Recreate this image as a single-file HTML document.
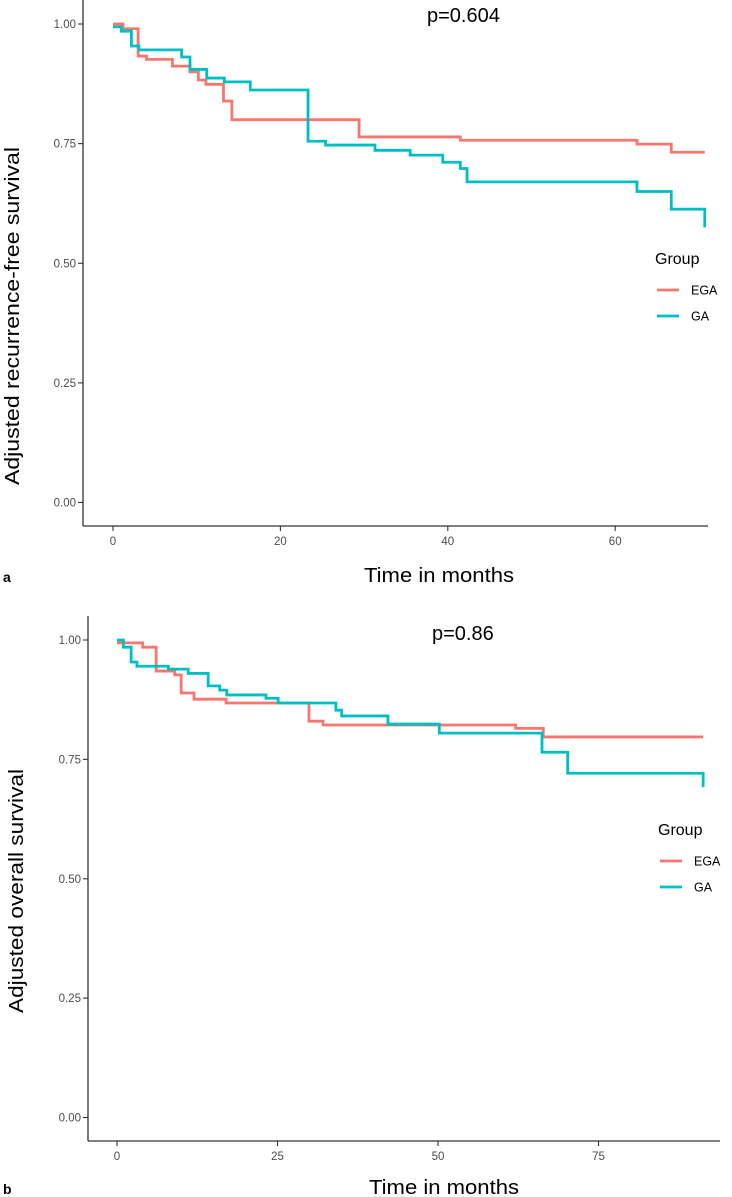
<!DOCTYPE html>
<html><head><meta charset="utf-8"><style>
html,body{margin:0;padding:0;background:#fff;}
svg{display:block;font-family:"Liberation Sans",sans-serif;}
</style></head><body>
<svg id="svg" width="732" height="1197" viewBox="0 0 732 1197" xmlns="http://www.w3.org/2000/svg"></svg>
<script>
// ---- Panel a data ----
const aTicksX = [0, 20, 40, 60];
const aTicksY = [0, 0.25, 0.5, 0.75, 1];
const aTickLabelsY = ["0.00", "0.25", "0.50", "0.75", "1.00"];
const aEgaT = [0, 1.2, 3, 4, 7.1, 9.2, 10.2, 11.1, 13.2, 14.2, 29.4, 41.5, 62.6, 66.7, 70.7];
const aEgaS = [1.0, 0.99, 0.933, 0.926, 0.912, 0.90, 0.883, 0.874, 0.839, 0.80, 0.764, 0.757, 0.749, 0.732, 0.732];
const aGaT = [0, 1, 2.2, 3.1, 8.2, 9.2, 11.2, 13.3, 16.4, 23.3, 25.4, 31.3, 35.5, 39.4, 41.5, 42.3, 62.6, 66.7, 70.7, 70.7];
const aGaS = [0.994, 0.985, 0.954, 0.946, 0.931, 0.905, 0.887, 0.879, 0.862, 0.755, 0.747, 0.736, 0.726, 0.711, 0.698, 0.67, 0.65, 0.613, 0.613, 0.575];
// ---- Panel b data ----
const bTicksX = [0, 25, 50, 75];
const bTicksY = [0, 0.25, 0.5, 0.75, 1];
const bTickLabelsY = ["0.00", "0.25", "0.50", "0.75", "1.00"];
const bEgaT = [0, 4.0, 6.1, 9.0, 10, 12, 17, 29.9, 32.1, 62.1, 66.4, 91.3];
const bEgaS = [0.994, 0.985, 0.935, 0.927, 0.889, 0.876, 0.868, 0.830, 0.822, 0.815, 0.797, 0.797];
const bGaT = [0, 1, 2.2, 3.1, 8, 11.1, 14.2, 16, 17.1, 23.2, 25.1, 34.1, 35, 42.2, 50.2, 66.2, 70.2, 91.3, 91.3];
const bGaS = [1.0, 0.985, 0.954, 0.945, 0.939, 0.930, 0.904, 0.895, 0.885, 0.878, 0.868, 0.853, 0.841, 0.824, 0.805, 0.765, 0.721, 0.721, 0.692];

const NS = "http://www.w3.org/2000/svg";
const svg = document.getElementById("svg");
function mk(tag, attrs, parent){const e=document.createElementNS(NS,tag);for(const k in attrs)e.setAttribute(k,attrs[k]);(parent||svg).appendChild(e);return e;}

function panel(cfg){
  const g = mk("g",{});
  
  
  const sx = t => cfg.x0 + t*cfg.pxT;
  const sy = v => cfg.y0 - v*cfg.pxV;
  // axes
  const ya = mk("line",{x1:cfg.ax,y1:cfg.axTop,x2:cfg.ax,y2:cfg.axY,stroke:"#333","stroke-width":1.3},g);
  
  
  const xa = mk("line",{x1:cfg.ax,y1:cfg.axY,x2:cfg.axRight,y2:cfg.axY,stroke:"#333","stroke-width":1.3},g);
  
  
  cfg.ticksY.forEach((v,i)=>{
    const tk = mk("line",{x1:cfg.ax-5,y1:sy(v),x2:cfg.ax,y2:sy(v),stroke:"#333","stroke-width":1.1},g);
    
    
    const t = mk("text",{x:cfg.ax-7,y:sy(v)+4,"text-anchor":"end","font-size":11.5,fill:"#4d4d4d"},g);
    t.textContent = cfg.labelsY[i];
    
    
  });
  cfg.ticksX.forEach(v=>{
    const tk = mk("line",{x1:sx(v),y1:cfg.axY,x2:sx(v),y2:cfg.axY+5,stroke:"#333","stroke-width":1.1},g);
    
    
    const t = mk("text",{x:sx(v),y:cfg.axY+19,"text-anchor":"middle","font-size":11.5,fill:"#4d4d4d"},g);
    t.textContent = String(v);
    
    
  });
  // curves
  function step(T,S,color,name){
    let d = "M"+sx(T[0])+","+sy(S[0]);
    for(let i=1;i<T.length;i++){ d += " H"+sx(T[i])+" V"+sy(S[i]); }
    const p = mk("path",{d:d,fill:"none",stroke:color,"stroke-width":2.8},g);
    
    
  }
  step(cfg.egaT,cfg.egaS,"#f8766d","ega-curve");
  step(cfg.gaT,cfg.gaS,"#00bfc4","ga-curve");
  // p value
  const pv = mk("text",{x:cfg.pX,y:cfg.pY,"font-size":20,fill:"#000"},g);
  pv.textContent = cfg.pText;
  
  
  // titles
  const yt = mk("text",{x:0,y:0,"text-anchor":"middle","font-size":20,fill:"#000",transform:"translate("+cfg.ytX+","+cfg.ytY+") rotate(-90)",textLength:cfg.ytLen,lengthAdjust:"spacingAndGlyphs"},g);
  yt.textContent = cfg.yTitle;
  
  
  const xt = mk("text",{x:cfg.xtX,y:cfg.xtY,"text-anchor":"middle","font-size":20,fill:"#000",textLength:150,lengthAdjust:"spacingAndGlyphs"},g);
  xt.textContent = "Time in months";
  
  
  const pl = mk("text",{x:3,y:cfg.xtY,"font-size":14,"font-weight":"bold",fill:"#000"},g);
  pl.textContent = cfg.letter;
  
  
  // legend
  const lg = mk("g",{},g);
  
  
  const lt = mk("text",{x:cfg.lgX,y:cfg.lgY,"font-size":16,fill:"#000"},lg);
  lt.textContent = "Group";
  
  
  [["EGA","#f8766d",cfg.lgY+26],["GA","#00bfc4",cfg.lgY+52]].forEach(e=>{
    const l = mk("line",{x1:cfg.lgX+2,y1:e[2],x2:cfg.lgX+24,y2:e[2],stroke:e[1],"stroke-width":2.8},lg);
    
    
    const t = mk("text",{x:cfg.lgX+36,y:e[2]+4.5,"font-size":12.5,fill:"#000"},lg);
    t.textContent = e[0];
    
    
  });
}

panel({name:"panel-a-recurrence-free", x0:113, pxT:8.37, y0:502.5, pxV:478.5,
  ax:83, axTop:0, axY:526, axRight:708,
  ticksX:aTicksX, ticksY:aTicksY, labelsY:aTickLabelsY,
  egaT:aEgaT, egaS:aEgaS, gaT:aGaT, gaS:aGaS,
  pX:427, pY:22, pText:"p=0.604",
  ytX:19, ytY:316, ytLen:338, yTitle:"Adjusted recurrence-free survival",
  xtX:439, xtY:582, letter:"a", lgX:655, lgY:264});

panel({name:"panel-b-overall", x0:117, pxT:6.42, y0:1117.5, pxV:477.5,
  ax:88, axTop:616, axY:1141, axRight:720,
  ticksX:bTicksX, ticksY:bTicksY, labelsY:bTickLabelsY,
  egaT:bEgaT, egaS:bEgaS, gaT:bGaT, gaS:bGaS,
  pX:432, pY:640, pText:"p=0.86",
  ytX:23, ytY:891, ytLen:244, yTitle:"Adjusted overall survival",
  xtX:444, xtY:1194, letter:"b", lgX:658, lgY:835});
</script>
</body></html>
